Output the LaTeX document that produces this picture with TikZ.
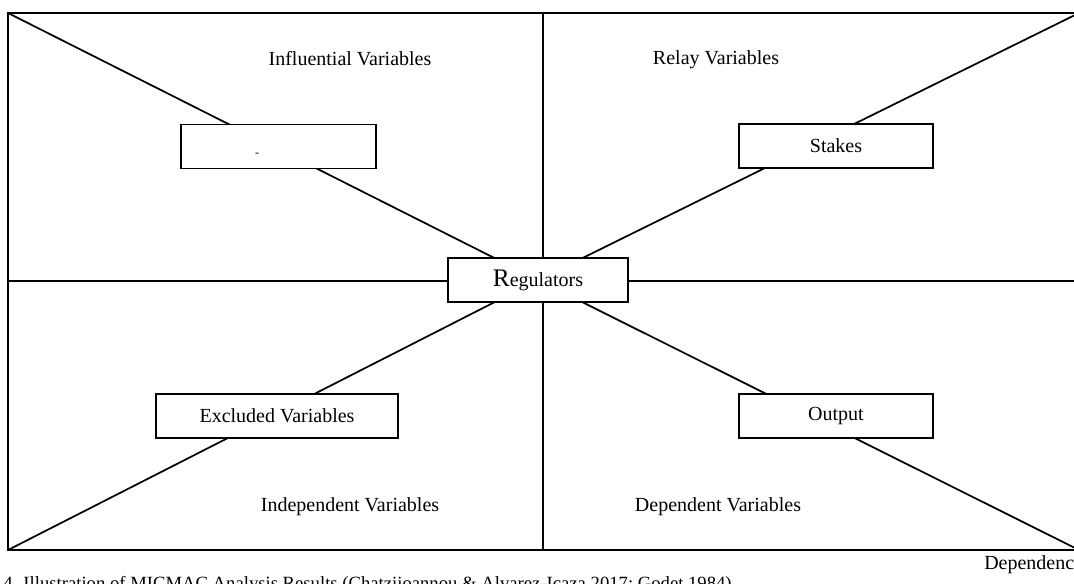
\documentclass[tikz,border=0pt]{standalone}
\usepackage{fontspec}
\setmainfont{Liberation Serif}
\usetikzlibrary{backgrounds}

\tikzset{
  varbox/.style={draw, line width=1.4pt, fill=white, inner sep=0.75pt, font=\fontsize{15}{18}\selectfont, minimum height=33pt},
  quadlabel/.style={anchor=base, inner sep=0.75pt, font=\fontsize{15}{18}\selectfont}
}

\begin{document}
\begin{tikzpicture}[x=0.75pt,y=0.75pt,yscale=-1,xscale=1]
	\useasboundingbox (0,0) rectangle (1074,583);
	
	%Shape: Rectangle
	\draw [line width=1.5pt] (8,13) rectangle (1079,550);
	\coordinate (tlc) at (8,13);
	\coordinate (trc) at (1079,13);
	\coordinate (blc) at (8,550);
	\coordinate (brc) at (1079,550);
	\coordinate (topmid) at (543,13);
	\coordinate (botmid) at (543,550);
	\coordinate (leftmid) at (8,281);
	\coordinate (rightmid) at (1079,281);
	
	%Shape: Rectangle
	\node [varbox, minimum width=135pt] (reg) at (538,280) {{\fontsize{19}{19}\selectfont R}egulators};
	%Shape: Rectangle
	\node [varbox, minimum width=146pt] (infl) at (278.5,146.5) {};
	%Shape: Rectangle
	\node [varbox, minimum width=145.5pt] (stakes) at (836,146) {Stakes};
	%Shape: Rectangle
	\node [varbox, minimum width=181.5pt] (excl) at (277,416) {Excluded Variables};
	%Shape: Rectangle
	\node [varbox, minimum width=145.5pt] (output) at (836,416) {Output};
	
	\begin{pgfonlayer}{background}
		%Straight Lines
		\draw [line width=1.4pt] (topmid) -- (botmid);
		\draw [line width=1.4pt] (leftmid) -- (rightmid);
		%Straight Lines
		\draw [line width=1.3pt] (tlc) -- (reg.center);
		\draw [line width=1.3pt] (trc) -- (reg.center);
		\draw [line width=1.3pt] (blc) -- (reg.center);
		\draw [line width=1.3pt] (brc) -- (reg.center);
	\end{pgfonlayer}
	
	% Text Node
	\node [inner sep=0pt, font=\fontsize{9}{9}\selectfont] (infldash) at (257,155) {-};
	% Text Node
	\node [quadlabel] (influential) at (350,65) {Influential Variables};
	% Text Node
	\node [quadlabel] (relay) at (716,64) {Relay Variables};
	% Text Node
	\node [quadlabel] (independent) at (350,511) {Independent Variables};
	% Text Node
	\node [quadlabel] (dependent) at (718,511) {Dependent Variables};
	% Text Node
	\node [anchor=base west, inner sep=0pt, font=\fontsize{15}{18}\selectfont] (dependence) at (984,569) {Dependenc};
	% Text Node
	\node [anchor=base west, inner sep=0pt, font=\fontsize{14}{17}\selectfont] (caption) at (3,589) {4. Illustration of MICMAC Analysis Results (Chatziioannou \& Alvarez-Icaza 2017; Godet 1984)};
	
\end{tikzpicture}
\end{document}
